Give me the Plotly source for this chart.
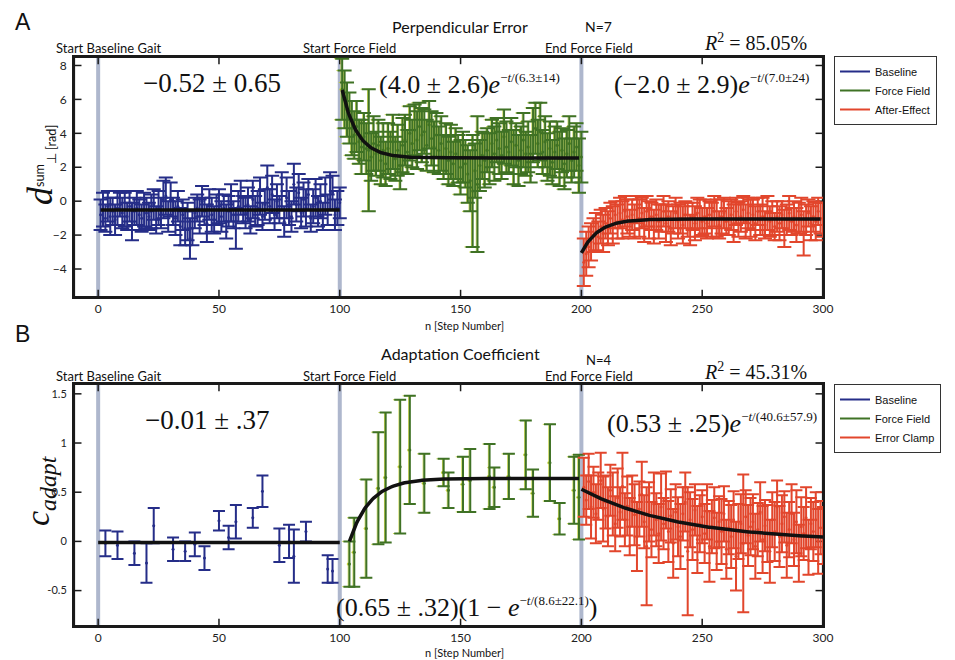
import numpy as np
import plotly.graph_objects as go

# page body has an 8px margin; the figure is sized to fill the rest of the 955x660 window
OFF = 8
FW, FH = 955 - OFF, 660 - OFF

# ---------------- Panel A data (Perpendicular Error) ----------------
steps_baseline = list(range(1, 101))
steps_force = list(range(101, 201))
steps_after = list(range(201, 301))

a_baseline_mean = [
    -0.8, -0.5, -1.0, -0.3, -0.9, -0.6, -1.1, -0.4, -0.2, -0.7,
    -0.5, -0.9, -0.3, -1.2, -0.6, -0.4, -0.8, -1.0, -0.5, -0.7,
    -0.9, -0.6, -0.2, -1.1, -0.4, -0.7, 0.1, 0.3, -0.9, 0.1,
    -0.6, -1.0, -0.3, -1.5, -0.8, -1.6, -1.2, -2.2, -1.6, -0.7,
    -0.4, -0.9, 0.0, -0.6, -1.3, -0.2, -0.8, -1.1, -0.5, -0.3,
    -0.9, -0.4, -1.2, -0.6, -0.1, -0.8, -1.6, -0.3, 0.2, -0.5,
    -0.7, -0.2, -1.1, 0.1, -0.6, -0.4, 0.3, -0.9, -0.2, 0.8,
    -0.3, 0.4, -0.8, 0.0, -0.5, 0.6, -1.2, 0.2, -0.4, -0.9,
    1.0, -0.2, 0.5, -0.7, 0.1, -0.4, 0.4, -1.0, -0.3, 0.2,
    -0.6, 0.0, -0.9, 0.3, -0.5, 0.6, 0.5, -0.8, -0.4, -0.1]
a_baseline_err = [
    0.9, 1.0, 0.8, 0.9, 1.1, 0.8, 0.9, 1.0, 0.7, 0.9,
    1.0, 0.8, 0.9, 1.1, 0.8, 1.0, 0.9, 0.8, 1.0, 0.9,
    0.8, 1.0, 0.9, 0.8, 1.0, 0.9, 1.1, 1.1, 0.9, 1.0,
    0.8, 1.0, 0.9, 1.1, 0.9, 1.0, 1.1, 1.2, 1.0, 0.9,
    0.8, 1.0, 0.9, 0.8, 1.1, 0.9, 1.0, 0.8, 0.9, 1.0,
    0.9, 0.8, 1.0, 0.9, 1.1, 0.8, 1.2, 0.9, 1.0, 0.8,
    0.9, 1.0, 0.8, 1.1, 0.9, 1.0, 1.1, 0.8, 0.9, 1.3,
    1.0, 1.1, 0.9, 1.0, 0.8, 1.1, 0.9, 1.2, 1.0, 0.9,
    1.2, 1.0, 1.1, 0.9, 1.0, 1.1, 0.9, 0.8, 1.0, 1.1,
    0.9, 1.0, 0.8, 1.1, 0.9, 1.1, 1.0, 0.9, 1.0, 0.9]

a_force_mean = [
    6.6, 6.0, 5.4, 4.9, 4.3, 3.9, 4.4, 3.5, 3.2, 3.8,
    3.1, 3.0, 2.6, 3.4, 2.8, 3.3, 2.4, 3.0, 2.2, 3.1,
    2.7, 3.5, 2.5, 3.0, 2.1, 3.3, 3.6, 2.9, 4.0, 3.4,
    4.2, 3.6, 4.4, 3.9, 4.1, 3.3, 4.5, 3.7, 3.2, 3.9,
    3.0, 3.4, 2.6, 3.1, 2.4, 2.9, 2.2, 2.8, 2.5, 2.0,
    2.6, 2.2, 1.6, 1.2, 0.6, 1.8, 1.0, 2.1, 2.7, 2.4,
    3.0, 2.5, 3.4, 2.8, 3.6, 3.1, 2.7, 3.8, 3.2, 2.9,
    3.5, 2.6, 3.3, 2.4, 3.0, 3.6, 2.8, 3.2, 2.5, 3.9,
    4.3, 3.4, 4.1, 2.9, 3.5, 2.6, 3.1, 2.3, 2.9, 3.3,
    2.5, 3.0, 2.2, 2.8, 3.4, 2.4, 2.9, 3.2, 2.1, 2.6]
a_force_err = [
    1.8, 1.7, 1.6, 1.5, 1.6, 1.4, 1.5, 1.3, 1.6, 1.4,
    1.5, 3.6, 1.4, 1.6, 1.3, 1.5, 1.4, 1.6, 1.3, 1.5,
    1.4, 1.6, 1.3, 1.5, 1.4, 1.6, 1.5, 1.3, 1.6, 1.4,
    1.5, 1.7, 1.4, 1.6, 1.3, 1.5, 1.4, 1.6, 1.5, 1.3,
    1.4, 1.6, 1.3, 1.5, 1.4, 1.6, 1.3, 1.5, 1.4, 1.6,
    1.5, 1.4, 1.7, 1.8, 3.3, 1.6, 4.0, 1.5, 1.4, 1.6,
    1.3, 1.5, 1.4, 1.6, 1.3, 1.5, 1.4, 1.6, 1.5, 1.3,
    1.4, 1.6, 1.3, 1.5, 1.4, 1.6, 1.3, 1.5, 1.4, 1.6,
    1.5, 1.4, 1.7, 1.3, 1.5, 1.4, 1.6, 1.3, 1.5, 1.4,
    1.6, 1.3, 1.5, 1.4, 1.6, 1.3, 1.5, 1.4, 1.6, 1.5]

a_after_mean = [
    -3.6, -3.1, -2.7, -2.4, -2.0, -1.8, -2.1, -1.5, -1.9, -1.3,
    -1.6, -1.0, -1.4, -0.8, -1.2, -0.7, -1.1, -0.6, -0.9, -1.3,
    -0.8, -1.2, -0.5, -1.0, -0.7, -1.4, -0.6, -1.1, -0.9, -1.5,
    -0.8, -1.2, -1.0, -0.6, -1.3, -0.9, -1.6, -1.1, -0.7, -1.2,
    -1.0, -1.4, -0.8, -1.1, -1.7, -0.9, -1.3, -0.7, -1.0, -1.2,
    -0.9, -1.3, -0.8, -1.1, -0.6, -1.0, -1.4, -0.9, -0.7, -1.2,
    -1.0, -0.8, -1.3, -0.6, -1.1, -0.9, -0.5, -1.2, -0.7, -1.0,
    -0.8, -1.3, -0.6, -1.1, -0.9, -1.4, -0.7, -1.2, -1.0, -1.5,
    -0.9, -1.3, -0.8, -1.6, -1.1, -0.7, -1.2, -0.9, -1.4, -1.0,
    -0.8, -1.9, -1.1, -0.7, -1.3, -0.9, -1.2, -0.6, -1.0, -1.1]
a_after_err = [
    1.4, 1.3, 1.2, 1.1, 1.0, 1.1, 0.9, 1.0, 1.1, 0.9,
    1.0, 0.9, 1.1, 0.8, 1.0, 0.9, 1.1, 0.9, 1.0, 0.8,
    0.9, 1.0, 0.8, 1.1, 0.9, 1.0, 0.9, 1.1, 0.8, 1.0,
    0.9, 1.0, 0.8, 0.9, 1.1, 0.9, 1.0, 0.8, 0.9, 1.0,
    0.9, 1.1, 0.8, 1.0, 0.9, 0.8, 1.0, 0.9, 1.1, 0.8,
    1.0, 0.9, 0.8, 1.0, 0.9, 1.1, 0.8, 1.0, 0.9, 0.8,
    1.0, 0.9, 1.1, 0.8, 1.0, 0.9, 0.8, 1.0, 0.9, 1.1,
    0.9, 1.0, 0.8, 0.9, 1.1, 0.8, 1.0, 0.9, 1.0, 0.8,
    0.9, 1.0, 0.8, 1.1, 0.9, 1.0, 0.8, 0.9, 1.0, 0.9,
    1.0, 1.3, 0.9, 0.8, 1.0, 0.9, 1.1, 0.8, 0.9, 1.0]

# fit parameters panel A
a_fit_baseline = -0.52
a_fit_force_amp, a_fit_force_tau, a_fit_force_off = 4.0, 6.3, 2.55
a_fit_after_amp, a_fit_after_tau, a_fit_after_off = -2.0, 7.0, -1.05

# ---------------- Panel B data (Adaptation Coefficient) ----------------
b_baseline_steps = [3, 8, 15, 20, 23, 31, 36, 40, 44, 50, 54, 57, 64, 68, 75, 79, 81, 86, 95, 97]
b_baseline_mean = [-0.02, -0.04, -0.12, -0.22, 0.16, -0.08, -0.10, -0.03, -0.17, 0.21,
                   0.04, 0.20, 0.24, 0.51, -0.04, 0.00, -0.15, 0.10, -0.28, -0.30]
b_baseline_err = [0.13, 0.14, 0.12, 0.20, 0.18, 0.12, 0.10, 0.12, 0.12, 0.10,
                  0.12, 0.17, 0.10, 0.16, 0.17, 0.17, 0.27, 0.10, 0.14, 0.12]

b_force_steps = [104, 106, 111, 116, 119, 125, 129, 135, 143, 145, 151, 154,
                 162, 164, 170, 177, 180, 187, 191, 197, 199]
b_force_mean = [-0.23, -0.11, 0.13, 0.54, 0.65, 0.76, 0.93, 0.59, 0.70, 0.52, 0.58, 0.62,
                0.66, 0.55, 0.66, 0.88, 0.49, 0.80, 0.23, 0.52, 0.45]
b_force_err = [0.23, 0.35, 0.50, 0.57, 0.66, 0.68, 0.55, 0.30, 0.14, 0.18, 0.28, 0.32,
               0.33, 0.20, 0.23, 0.35, 0.24, 0.39, 0.16, 0.34, 0.43]

b_clamp_steps = list(range(201, 301))
b_clamp_mean = [
    0.55, 0.42, 0.61, 0.35, 0.50, 0.28, 0.46, 0.62, 0.33, 0.40,
    0.25, 0.52, 0.38, 0.18, 0.44, 0.30, 0.56, 0.22, 0.36, 0.15,
    0.41, 0.27, 0.05, 0.33, 0.48, 0.20, -0.05, 0.30, 0.12, 0.38,
    0.22, 0.08, 0.35, 0.18, 0.42, 0.10, 0.26, -0.02, 0.30, 0.15,
    0.05, 0.28, 0.40, -0.10, 0.22, 0.12, 0.32, 0.02, 0.18, 0.25,
    0.08, 0.30, -0.05, 0.15, 0.24, 0.00, 0.20, 0.10, 0.28, -0.08,
    0.14, 0.05, 0.22, -0.15, 0.10, 0.18, -0.02, 0.25, 0.06, 0.15,
    0.20, -0.05, 0.12, 0.30, 0.02, 0.16, 0.08, -0.10, 0.22, 0.10,
    0.35, 0.05, 0.18, 0.25, -0.04, 0.12, 0.28, 0.02, 0.20, -0.12,
    0.15, 0.08, 0.24, -0.06, 0.18, 0.10, 0.22, 0.00, 0.14, 0.06]
b_clamp_err = [
    0.30, 0.25, 0.28, 0.32, 0.26, 0.30, 0.24, 0.28, 0.33, 0.27,
    0.30, 0.26, 0.32, 0.28, 0.30, 0.25, 0.34, 0.27, 0.30, 0.29,
    0.26, 0.31, 0.35, 0.28, 0.33, 0.27, 0.60, 0.30, 0.28, 0.32,
    0.27, 0.30, 0.34, 0.26, 0.29, 0.31, 0.27, 0.35, 0.28, 0.30,
    0.33, 0.27, 0.30, 0.65, 0.28, 0.31, 0.26, 0.34, 0.29, 0.27,
    0.30, 0.28, 0.36, 0.27, 0.31, 0.29, 0.26, 0.33, 0.28, 0.30,
    0.27, 0.32, 0.29, 0.35, 0.28, 0.30, 0.70, 0.27, 0.31, 0.29,
    0.28, 0.33, 0.27, 0.30, 0.34, 0.26, 0.29, 0.32, 0.28, 0.30,
    0.27, 0.31, 0.29, 0.26, 0.33, 0.28, 0.30, 0.27, 0.32, 0.29,
    0.30, 0.27, 0.31, 0.28, 0.26, 0.30, 0.28, 0.33, 0.27, 0.29]

# fit parameters panel B
b_fit_baseline = -0.01
b_fit_force_amp, b_fit_force_tau, b_fit_force_start = 0.64, 8.6, 104
b_fit_clamp_amp, b_fit_clamp_tau = 0.53, 40.6

legend_a = ["Baseline", "Force Field", "After-Effect"]
legend_b = ["Baseline", "Force Field", "Error Clamp"]
markers_at = [0, 100, 200]
x_ticks = [0, 50, 100, 150, 200, 250, 300]
ya_ticks = [-4, -2, 0, 2, 4, 6, 8]
yb_ticks = [-0.5, 0, 0.5, 1, 1.5]
yb_ticktext = ["-0.5", "0", "0.5", "1", "1.5"]

BLUE = "#252d88"
GREEN = "#3f7225"
YELLOW = "#c4d23c"
RED = "#e2462c"
BAND = "#aeb7cd"
INK = "#1a1a1a"


def px(x):
    return (x - OFF) / FW


def py(y):
    return 1 - (y - OFF) / FH


fig = go.Figure()


def errtrace(x, y, e, color, xa, ya, cap, thick=2.0, shift=0.0):
    xs = [v + shift for v in x]
    fig.add_trace(go.Scatter(
        x=xs, y=y, mode="markers", xaxis=xa, yaxis=ya, showlegend=False,
        marker=dict(size=3, color=color),
        error_y=dict(type="data", array=e, color=color, thickness=thick, width=cap),
        hoverinfo="skip"))


# Panel A
errtrace(steps_baseline, a_baseline_mean, a_baseline_err, BLUE, "x", "y", 7)
errtrace(steps_force, a_force_mean, a_force_err, YELLOW, "x", "y", 7, 0.9, -0.5)
errtrace(steps_force, a_force_mean, a_force_err, GREEN, "x", "y", 7)
errtrace(steps_after, a_after_mean, a_after_err, RED, "x", "y", 7)

t1 = np.linspace(1, 100, 50)
fig.add_trace(go.Scatter(x=t1, y=[a_fit_baseline] * len(t1), mode="lines", xaxis="x", yaxis="y",
                         line=dict(color="#111", width=3.5), showlegend=False, hoverinfo="skip"))
t2 = np.linspace(101, 199, 200)
fig.add_trace(go.Scatter(x=t2, y=a_fit_force_off + a_fit_force_amp * np.exp(-(t2 - 101) / a_fit_force_tau),
                         mode="lines", xaxis="x", yaxis="y", line=dict(color="#111", width=3.5),
                         showlegend=False, hoverinfo="skip"))
t3 = np.linspace(200, 299, 200)
fig.add_trace(go.Scatter(x=t3, y=a_fit_after_off + a_fit_after_amp * np.exp(-(t3 - 200) / a_fit_after_tau),
                         mode="lines", xaxis="x", yaxis="y", line=dict(color="#111", width=3.5),
                         showlegend=False, hoverinfo="skip"))

# Panel B
errtrace(b_baseline_steps, b_baseline_mean, b_baseline_err, BLUE, "x2", "y2", 6)
errtrace(b_force_steps, b_force_mean, b_force_err, YELLOW, "x2", "y2", 6, 0.9, -0.5)
errtrace(b_force_steps, b_force_mean, b_force_err, GREEN, "x2", "y2", 6)
errtrace(b_clamp_steps, b_clamp_mean, b_clamp_err, RED, "x2", "y2", 6)

u1 = np.linspace(0, 100, 50)
fig.add_trace(go.Scatter(x=u1, y=[b_fit_baseline] * len(u1), mode="lines", xaxis="x2", yaxis="y2",
                         line=dict(color="#111", width=3.5), showlegend=False, hoverinfo="skip"))
u2 = np.linspace(b_fit_force_start, 199, 200)
fig.add_trace(go.Scatter(x=u2, y=b_fit_force_amp * (1 - np.exp(-(u2 - b_fit_force_start) / b_fit_force_tau)),
                         mode="lines", xaxis="x2", yaxis="y2", line=dict(color="#111", width=3.5),
                         showlegend=False, hoverinfo="skip"))
u3 = np.linspace(200, 300, 200)
fig.add_trace(go.Scatter(x=u3, y=b_fit_clamp_amp * np.exp(-(u3 - 200) / b_fit_clamp_tau),
                         mode="lines", xaxis="x2", yaxis="y2", line=dict(color="#111", width=3.5),
                         showlegend=False, hoverinfo="skip"))

# legend entries
for name, col in zip(legend_a, [BLUE, GREEN, RED]):
    fig.add_trace(go.Scatter(x=[None], y=[None], mode="lines", name=name, xaxis="x", yaxis="y",
                             line=dict(color=col, width=2), legend="legend"))
for name, col in zip(legend_b, [BLUE, GREEN, RED]):
    fig.add_trace(go.Scatter(x=[None], y=[None], mode="lines", name=name, xaxis="x2", yaxis="y2",
                             line=dict(color=col, width=2), legend="legend2"))

# vertical marker bands, frames and ticks (axis-referenced shapes)
shapes = []
for xr, yr, yt in [("x", "y", ya_ticks), ("x2", "y2", yb_ticks)]:
    for m in markers_at:
        shapes.append(dict(type="line", xref=xr, yref=yr + " domain", x0=m, x1=m, y0=0, y1=1,
                           line=dict(color=BAND, width=4), layer="below"))
    for t in x_ticks:
        shapes.append(dict(type="line", xref=xr, yref=yr + " domain", x0=t, x1=t, y0=0, y1=0.03,
                           line=dict(color=INK, width=1.5), layer="below"))
        shapes.append(dict(type="line", xref=xr, yref=yr + " domain", x0=t, x1=t, y0=0.97, y1=1,
                           line=dict(color=INK, width=1.5), layer="below"))
    for t in yt:
        shapes.append(dict(type="line", xref=xr + " domain", yref=yr, x0=0, x1=0.01, y0=t, y1=t,
                           line=dict(color=INK, width=1.5), layer="below"))
        shapes.append(dict(type="line", xref=xr + " domain", yref=yr, x0=0.99, x1=1, y0=t, y1=t,
                           line=dict(color=INK, width=1.5), layer="below"))
    shapes.append(dict(type="rect", xref=xr + " domain", yref=yr + " domain", x0=0, x1=1, y0=0, y1=1,
                       line=dict(color=INK, width=2.2), layer="below"))

tickfont = dict(family="Lato", size=12, color="#222")
axis_common = dict(showline=True, linecolor=INK, linewidth=2, mirror=True, ticks="",
                   showgrid=False, zeroline=False, tickfont=tickfont, automargin=False)
xdom = [px(74), px(823)]

fig.update_layout(
    width=FW, height=FH, autosize=False,
    margin=dict(l=0, r=0, t=0, b=0, autoexpand=False),
    paper_bgcolor="white", plot_bgcolor="rgba(0,0,0,0)",
    shapes=shapes,
    xaxis=dict(domain=xdom, range=[-10, 300], tickvals=x_ticks, anchor="y", ticklabelstandoff=0,
               **axis_common),
    yaxis=dict(domain=[py(297), py(57)], range=[-5.65, 8.5], tickvals=ya_ticks,
               anchor="x", ticklabelstandoff=3, **axis_common),
    xaxis2=dict(domain=xdom, range=[-10, 300], tickvals=x_ticks, anchor="y2", ticklabelstandoff=0,
                **axis_common),
    yaxis2=dict(domain=[py(626), py(384)], range=[-0.86, 1.6], tickvals=yb_ticks,
                ticktext=yb_ticktext, anchor="x2", ticklabelstandoff=3,
                **{**axis_common, "tickfont": dict(family="Lato", size=11, color="#222")}),
    legend=dict(x=px(834), y=py(56), xanchor="left", yanchor="top", bgcolor="white",
                bordercolor="#333", borderwidth=1,
                font=dict(family="Liberation Sans", size=11, color="#111"),
                tracegroupgap=0, itemwidth=30),
    legend2=dict(x=px(834), y=py(384), xanchor="left", yanchor="top", bgcolor="white",
                 bordercolor="#333", borderwidth=1,
                 font=dict(family="Liberation Sans", size=11, color="#111"),
                 tracegroupgap=0, itemwidth=30),
    showlegend=True,
)

SERIF = "Liberation Serif"
SANS = "Lato"
ann = []


def A(x, y, text, size, family=SANS, color="#111", xanchor="center", angle=0):
    ann.append(dict(x=px(x), y=py(y), xref="paper", yref="paper", text=text, showarrow=False,
                    xanchor=xanchor, yanchor="middle", textangle=angle,
                    font=dict(family=family, size=size, color=color)))


# panel letters
A(23, 22, "A", 23, "Liberation Sans", "#111")
A(23, 334, "B", 23, "Liberation Sans", "#111")

# titles
A(460, 27, "Perpendicular Error", 16)
A(598, 27, "N=7", 14)
A(460, 353, "Adaptation Coefficient", 16)
A(598, 360, "N=4", 13)

for yv in (48, 376):
    A(54, yv, "Start Baseline Gait", 13, xanchor="left")
    A(301, yv, "Start Force Field", 13, xanchor="left")
    A(543, yv, "End Force Field", 13, xanchor="left")

A(755, 42, "<i>R</i><sup>2</sup> = 85.05%", 20, SERIF)
A(755, 371, "<i>R</i><sup>2</sup> = 45.31%", 20, SERIF)

# x titles
A(464, 325, "n [Step Number]", 11)
A(464, 652, "n [Step Number]", 11)

# y titles
A(40, 165, "<span style='font-family:Liberation Serif;font-size:36px'><i>d</i></span>"
           "<sup>sum</sup><sub>⊥ [rad]</sub>", 18, SANS, angle=-90)
A(40, 490, "<i>c</i><sub><i>adapt</i></sub>", 34, SERIF, angle=-90)

# formula annotations
SM = "<span style='font-size:13px'>"
A(212, 83, "−0.52 ± 0.65", 27, SERIF)
A(469, 84, "(4.0 ± 2.6)<i>e</i><sup>" + SM + "−<i>t</i>/(6.3±14)</span></sup>", 26, SERIF)
A(711, 84, "(−2.0 ± 2.9)<i>e</i><sup>" + SM + "−<i>t</i>/(7.0±24)</span></sup>", 26, SERIF)
A(207, 420, "−0.01 ± .37", 27, SERIF)
A(712, 423, "(0.53 ± .25)<i>e</i><sup>" + SM + "−<i>t</i>/(40.6±57.9)</span></sup>", 26, SERIF)
A(467, 607, "(0.65 ± .32)(1 − <i>e</i><sup>" + SM + "−<i>t</i>/(8.6±22.1)</span></sup>)", 26, SERIF)

fig.update_layout(annotations=ann)

fig.write_html("out.html")
